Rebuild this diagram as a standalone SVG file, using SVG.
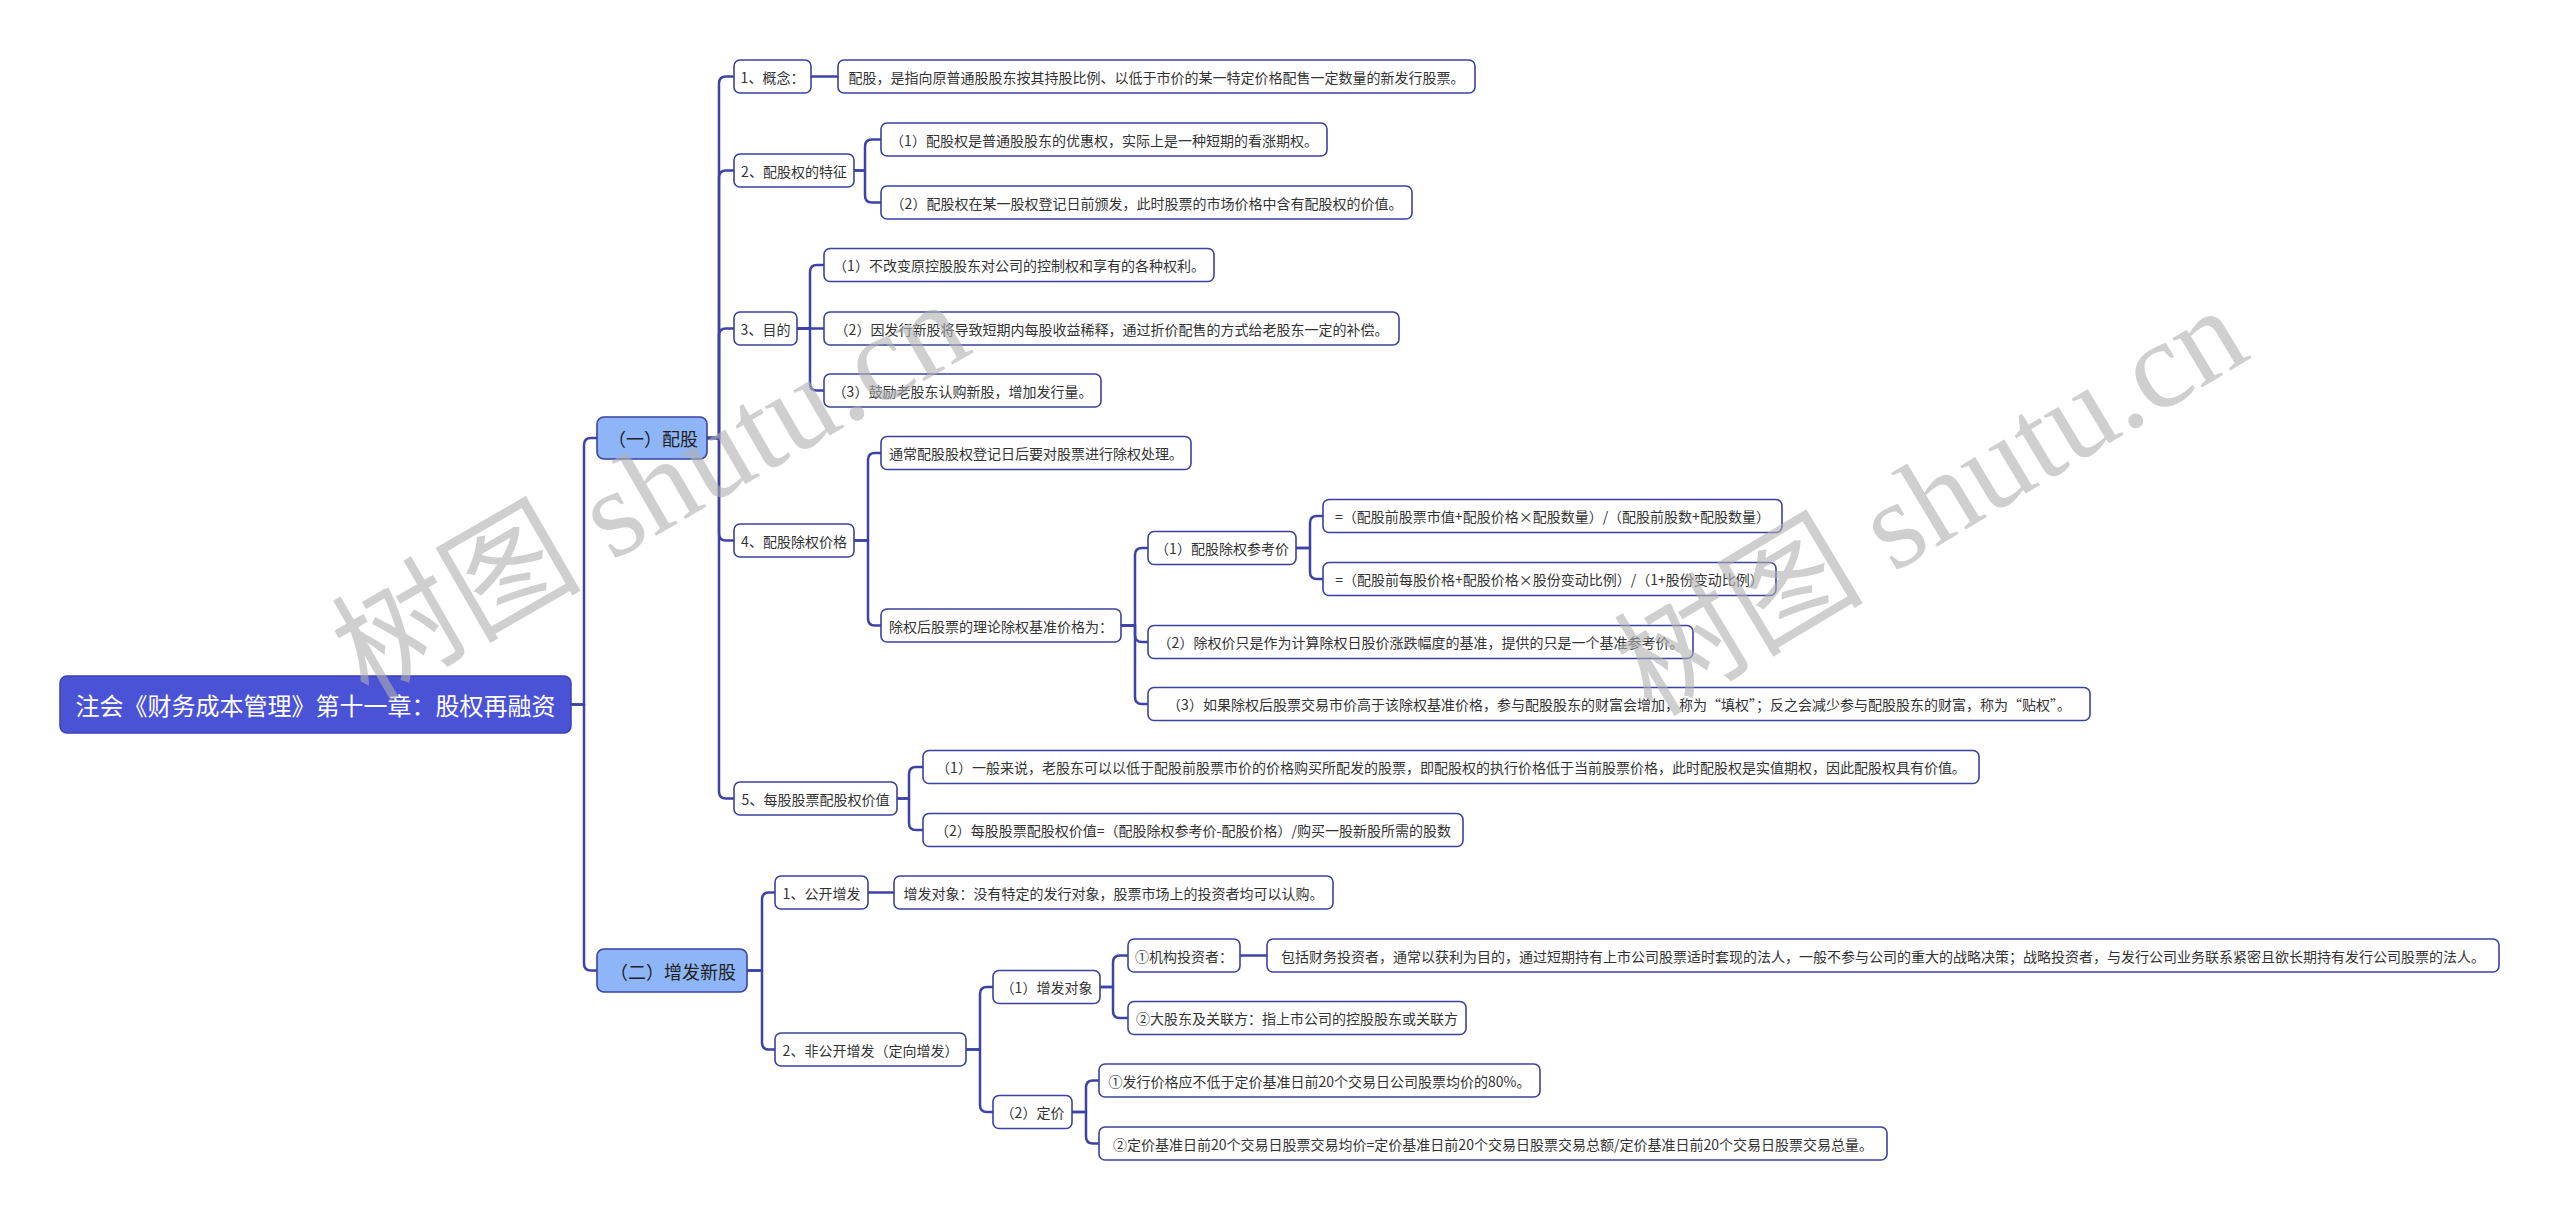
<svg xmlns="http://www.w3.org/2000/svg" width="2560" height="1221" viewBox="0 0 2560 1221">
<style>
.bg{fill:#ffffff}
.n rect{fill:#ffffff;stroke:#3a41a0;stroke-width:1.6}
.n text{font-family:"Noto Sans CJK SC","Liberation Sans",sans-serif;font-size:14px;fill:#333333;text-anchor:middle;dominant-baseline:central}
.l1 rect{fill:#8db5f7;stroke:#3a41a0;stroke-width:1.6}
.l1 text{font-family:"Noto Sans CJK SC","Liberation Sans",sans-serif;font-size:18px;fill:#222222;text-anchor:middle;dominant-baseline:central}
.root rect{fill:#4a53d6;stroke:#3a41b0;stroke-width:1.5}
.root text{font-family:"Noto Sans CJK SC","Liberation Sans",sans-serif;font-size:24px;fill:#ffffff;text-anchor:middle;dominant-baseline:central}
#connectors path{fill:none;stroke:#3d43a6;stroke-width:2.5;stroke-linejoin:round}
.wm{font-family:"Liberation Serif","Noto Sans CJK SC",serif;font-size:125px;fill:#b0b0b0;opacity:0.6}
</style>
<rect class="bg" x="0" y="0" width="2560" height="1221"/>
<g id="connectors">
<path d="M571 704.5 H584 V445 Q584 438 591 438 H597"/>
<path d="M571 704.5 H584 V963.5 Q584 970.5 591 970.5 H597"/>
<path d="M707 438 H719 V83.5 Q719 76.5 726 76.5 H734"/>
<path d="M707 438 H719 V177.5 Q719 170.5 726 170.5 H734"/>
<path d="M707 438 H719 V335.5 Q719 328.5 726 328.5 H734"/>
<path d="M707 438 H719 V533.5 Q719 540.5 726 540.5 H734"/>
<path d="M707 438 H719 V791.5 Q719 798.5 726 798.5 H734"/>
<path d="M811 76.5 H838"/>
<path d="M854 170.5 H865 V146.5 Q865 139.5 872 139.5 H881"/>
<path d="M854 170.5 H865 V195.5 Q865 202.5 872 202.5 H881"/>
<path d="M797 328.5 H810 V272 Q810 265 817 265 H824"/>
<path d="M797 328.5 H824"/>
<path d="M797 328.5 H810 V383.5 Q810 390.5 817 390.5 H824"/>
<path d="M854 540.5 H868 V460 Q868 453 875 453 H881"/>
<path d="M854 540.5 H868 V618.5 Q868 625.5 875 625.5 H881"/>
<path d="M1121 625.5 H1135 V555 Q1135 548 1142 548 H1148"/>
<path d="M1121 625.5 H1135 V635 Q1135 642 1142 642 H1148"/>
<path d="M1121 625.5 H1135 V697 Q1135 704 1142 704 H1148"/>
<path d="M1296 548 H1310 V523 Q1310 516 1317 516 H1323"/>
<path d="M1296 548 H1310 V572 Q1310 579 1317 579 H1323"/>
<path d="M897 798.5 H909 V774 Q909 767 916 767 H923"/>
<path d="M897 798.5 H909 V823 Q909 830 916 830 H923"/>
<path d="M747 970.5 H762 V899.5 Q762 892.5 769 892.5 H775"/>
<path d="M747 970.5 H762 V1042.5 Q762 1049.5 769 1049.5 H775"/>
<path d="M868 892.5 H894"/>
<path d="M966 1049.5 H980 V994 Q980 987 987 987 H993"/>
<path d="M966 1049.5 H980 V1105 Q980 1112 987 1112 H993"/>
<path d="M1100 987 H1113 V962.5 Q1113 955.5 1120 955.5 H1128"/>
<path d="M1100 987 H1113 V1011 Q1113 1018 1120 1018 H1128"/>
<path d="M1240 955.5 H1267"/>
<path d="M1072 1112 H1086 V1087.5 Q1086 1080.5 1093 1080.5 H1099"/>
<path d="M1072 1112 H1086 V1136.5 Q1086 1143.5 1093 1143.5 H1099"/>
</g>
<g id="root" class="root"><rect x="60" y="676" width="511" height="57" rx="7"/><text x="315.5" y="704.5">注会《财务成本管理》第十一章：股权再融资</text></g>
<g id="l1a" class="l1"><rect x="597" y="417" width="110" height="42" rx="7"/><text x="653" y="438">（一）配股</text></g>
<g id="l1b" class="l1"><rect x="597" y="949" width="150" height="43" rx="7"/><text x="673" y="970.5">（二）增发新股</text></g>
<g id="n1" class="n"><rect x="734" y="60" width="77" height="33" rx="6"/><text x="772.5" y="76.5">1、概念：</text></g>
<g id="n1a" class="n"><rect x="838" y="60" width="637" height="33" rx="6"/><text x="1156.5" y="76.5">配股，是指向原普通股股东按其持股比例、以低于市价的某一特定价格配售一定数量的新发行股票。</text></g>
<g id="n2" class="n"><rect x="734" y="154" width="120" height="33" rx="6"/><text x="794" y="170.5">2、配股权的特征</text></g>
<g id="n2a" class="n"><rect x="881" y="123" width="446" height="33" rx="6"/><text x="1104" y="139.5">（1）配股权是普通股股东的优惠权，实际上是一种短期的看涨期权。</text></g>
<g id="n2b" class="n"><rect x="881" y="186" width="531" height="33" rx="6"/><text x="1146.5" y="202.5">（2）配股权在某一股权登记日前颁发，此时股票的市场价格中含有配股权的价值。</text></g>
<g id="n3" class="n"><rect x="734" y="312" width="63" height="33" rx="6"/><text x="765.5" y="328.5">3、目的</text></g>
<g id="n3a" class="n"><rect x="824" y="248.5" width="390" height="33" rx="6"/><text x="1019" y="265">（1）不改变原控股股东对公司的控制权和享有的各种权利。</text></g>
<g id="n3b" class="n"><rect x="824" y="312" width="575" height="33" rx="6"/><text x="1111.5" y="328.5">（2）因发行新股将导致短期内每股收益稀释，通过折价配售的方式给老股东一定的补偿。</text></g>
<g id="n3c" class="n"><rect x="824" y="374" width="277" height="33" rx="6"/><text x="962.5" y="390.5">（3）鼓励老股东认购新股，增加发行量。</text></g>
<g id="n4" class="n"><rect x="734" y="524" width="120" height="33" rx="6"/><text x="794" y="540.5">4、配股除权价格</text></g>
<g id="n4a" class="n"><rect x="881" y="436.5" width="310" height="33" rx="6"/><text x="1036" y="453">通常配股股权登记日后要对股票进行除权处理。</text></g>
<g id="n4b" class="n"><rect x="881" y="609" width="240" height="33" rx="6"/><text x="1001" y="625.5">除权后股票的理论除权基准价格为：</text></g>
<g id="n4b1" class="n"><rect x="1148" y="531.5" width="148" height="33" rx="6"/><text x="1222" y="548">（1）配股除权参考价</text></g>
<g id="n4b1a" class="n"><rect x="1323" y="499.5" width="459" height="33" rx="6"/><text x="1552.5" y="516">=（配股前股票市值+配股价格×配股数量）/（配股前股数+配股数量）</text></g>
<g id="n4b1b" class="n"><rect x="1323" y="562.5" width="453" height="33" rx="6"/><text x="1549.5" y="579">=（配股前每股价格+配股价格×股份变动比例）/（1+股份变动比例）</text></g>
<g id="n4b2" class="n"><rect x="1148" y="625.5" width="545" height="33" rx="6"/><text x="1420.5" y="642">（2）除权价只是作为计算除权日股价涨跌幅度的基准，提供的只是一个基准参考价。</text></g>
<g id="n4b3" class="n"><rect x="1148" y="687.5" width="942" height="33" rx="6"/><text x="1619" y="704">（3）如果除权后股票交易市价高于该除权基准价格，参与配股股东的财富会增加，称为“填权”；反之会减少参与配股股东的财富，称为“贴权”。</text></g>
<g id="n5" class="n"><rect x="734" y="782" width="163" height="33" rx="6"/><text x="815.5" y="798.5">5、每股股票配股权价值</text></g>
<g id="n5a" class="n"><rect x="923" y="750.5" width="1056" height="33" rx="6"/><text x="1451" y="767">（1）一般来说，老股东可以以低于配股前股票市价的价格购买所配发的股票，即配股权的执行价格低于当前股票价格，此时配股权是实值期权，因此配股权具有价值。</text></g>
<g id="n5b" class="n"><rect x="923" y="813.5" width="540" height="33" rx="6"/><text x="1193" y="830">（2）每股股票配股权价值=（配股除权参考价-配股价格）/购买一股新股所需的股数</text></g>
<g id="m1" class="n"><rect x="775" y="876" width="93" height="33" rx="6"/><text x="821.5" y="892.5">1、公开增发</text></g>
<g id="m1a" class="n"><rect x="894" y="876" width="439" height="33" rx="6"/><text x="1113.5" y="892.5">增发对象：没有特定的发行对象，股票市场上的投资者均可以认购。</text></g>
<g id="m2" class="n"><rect x="775" y="1033" width="191" height="33" rx="6"/><text x="870.5" y="1049.5">2、非公开增发（定向增发）</text></g>
<g id="m2a" class="n"><rect x="993" y="970.5" width="107" height="33" rx="6"/><text x="1046.5" y="987">（1）增发对象</text></g>
<g id="m2a1" class="n"><rect x="1128" y="939" width="112" height="33" rx="6"/><text x="1184" y="955.5">①机构投资者：</text></g>
<g id="m2a1a" class="n"><rect x="1267" y="939" width="1232" height="33" rx="6"/><text x="1883" y="955.5">包括财务投资者，通常以获利为目的，通过短期持有上市公司股票适时套现的法人，一般不参与公司的重大的战略决策；战略投资者，与发行公司业务联系紧密且欲长期持有发行公司股票的法人。</text></g>
<g id="m2a2" class="n"><rect x="1128" y="1001.5" width="338" height="33" rx="6"/><text x="1297" y="1018">②大股东及关联方：指上市公司的控股股东或关联方</text></g>
<g id="m2b" class="n"><rect x="993" y="1095.5" width="79" height="33" rx="6"/><text x="1032.5" y="1112">（2）定价</text></g>
<g id="m2b1" class="n"><rect x="1099" y="1064" width="441" height="33" rx="6"/><text x="1319.5" y="1080.5">①发行价格应不低于定价基准日前20个交易日公司股票均价的80%。</text></g>
<g id="m2b2" class="n"><rect x="1099" y="1127" width="788" height="33" rx="6"/><text x="1493" y="1143.5">②定价基准日前20个交易日股票交易均价=定价基准日前20个交易日股票交易总额/定价基准日前20个交易日股票交易总量。</text></g>
<g id="watermark">
<text class="wm" transform="translate(368,702) rotate(-30)">树图 shutu.cn</text>
<text class="wm" transform="translate(1652,718) rotate(-31)">树图 shutu.cn</text>
</g>
</svg>
